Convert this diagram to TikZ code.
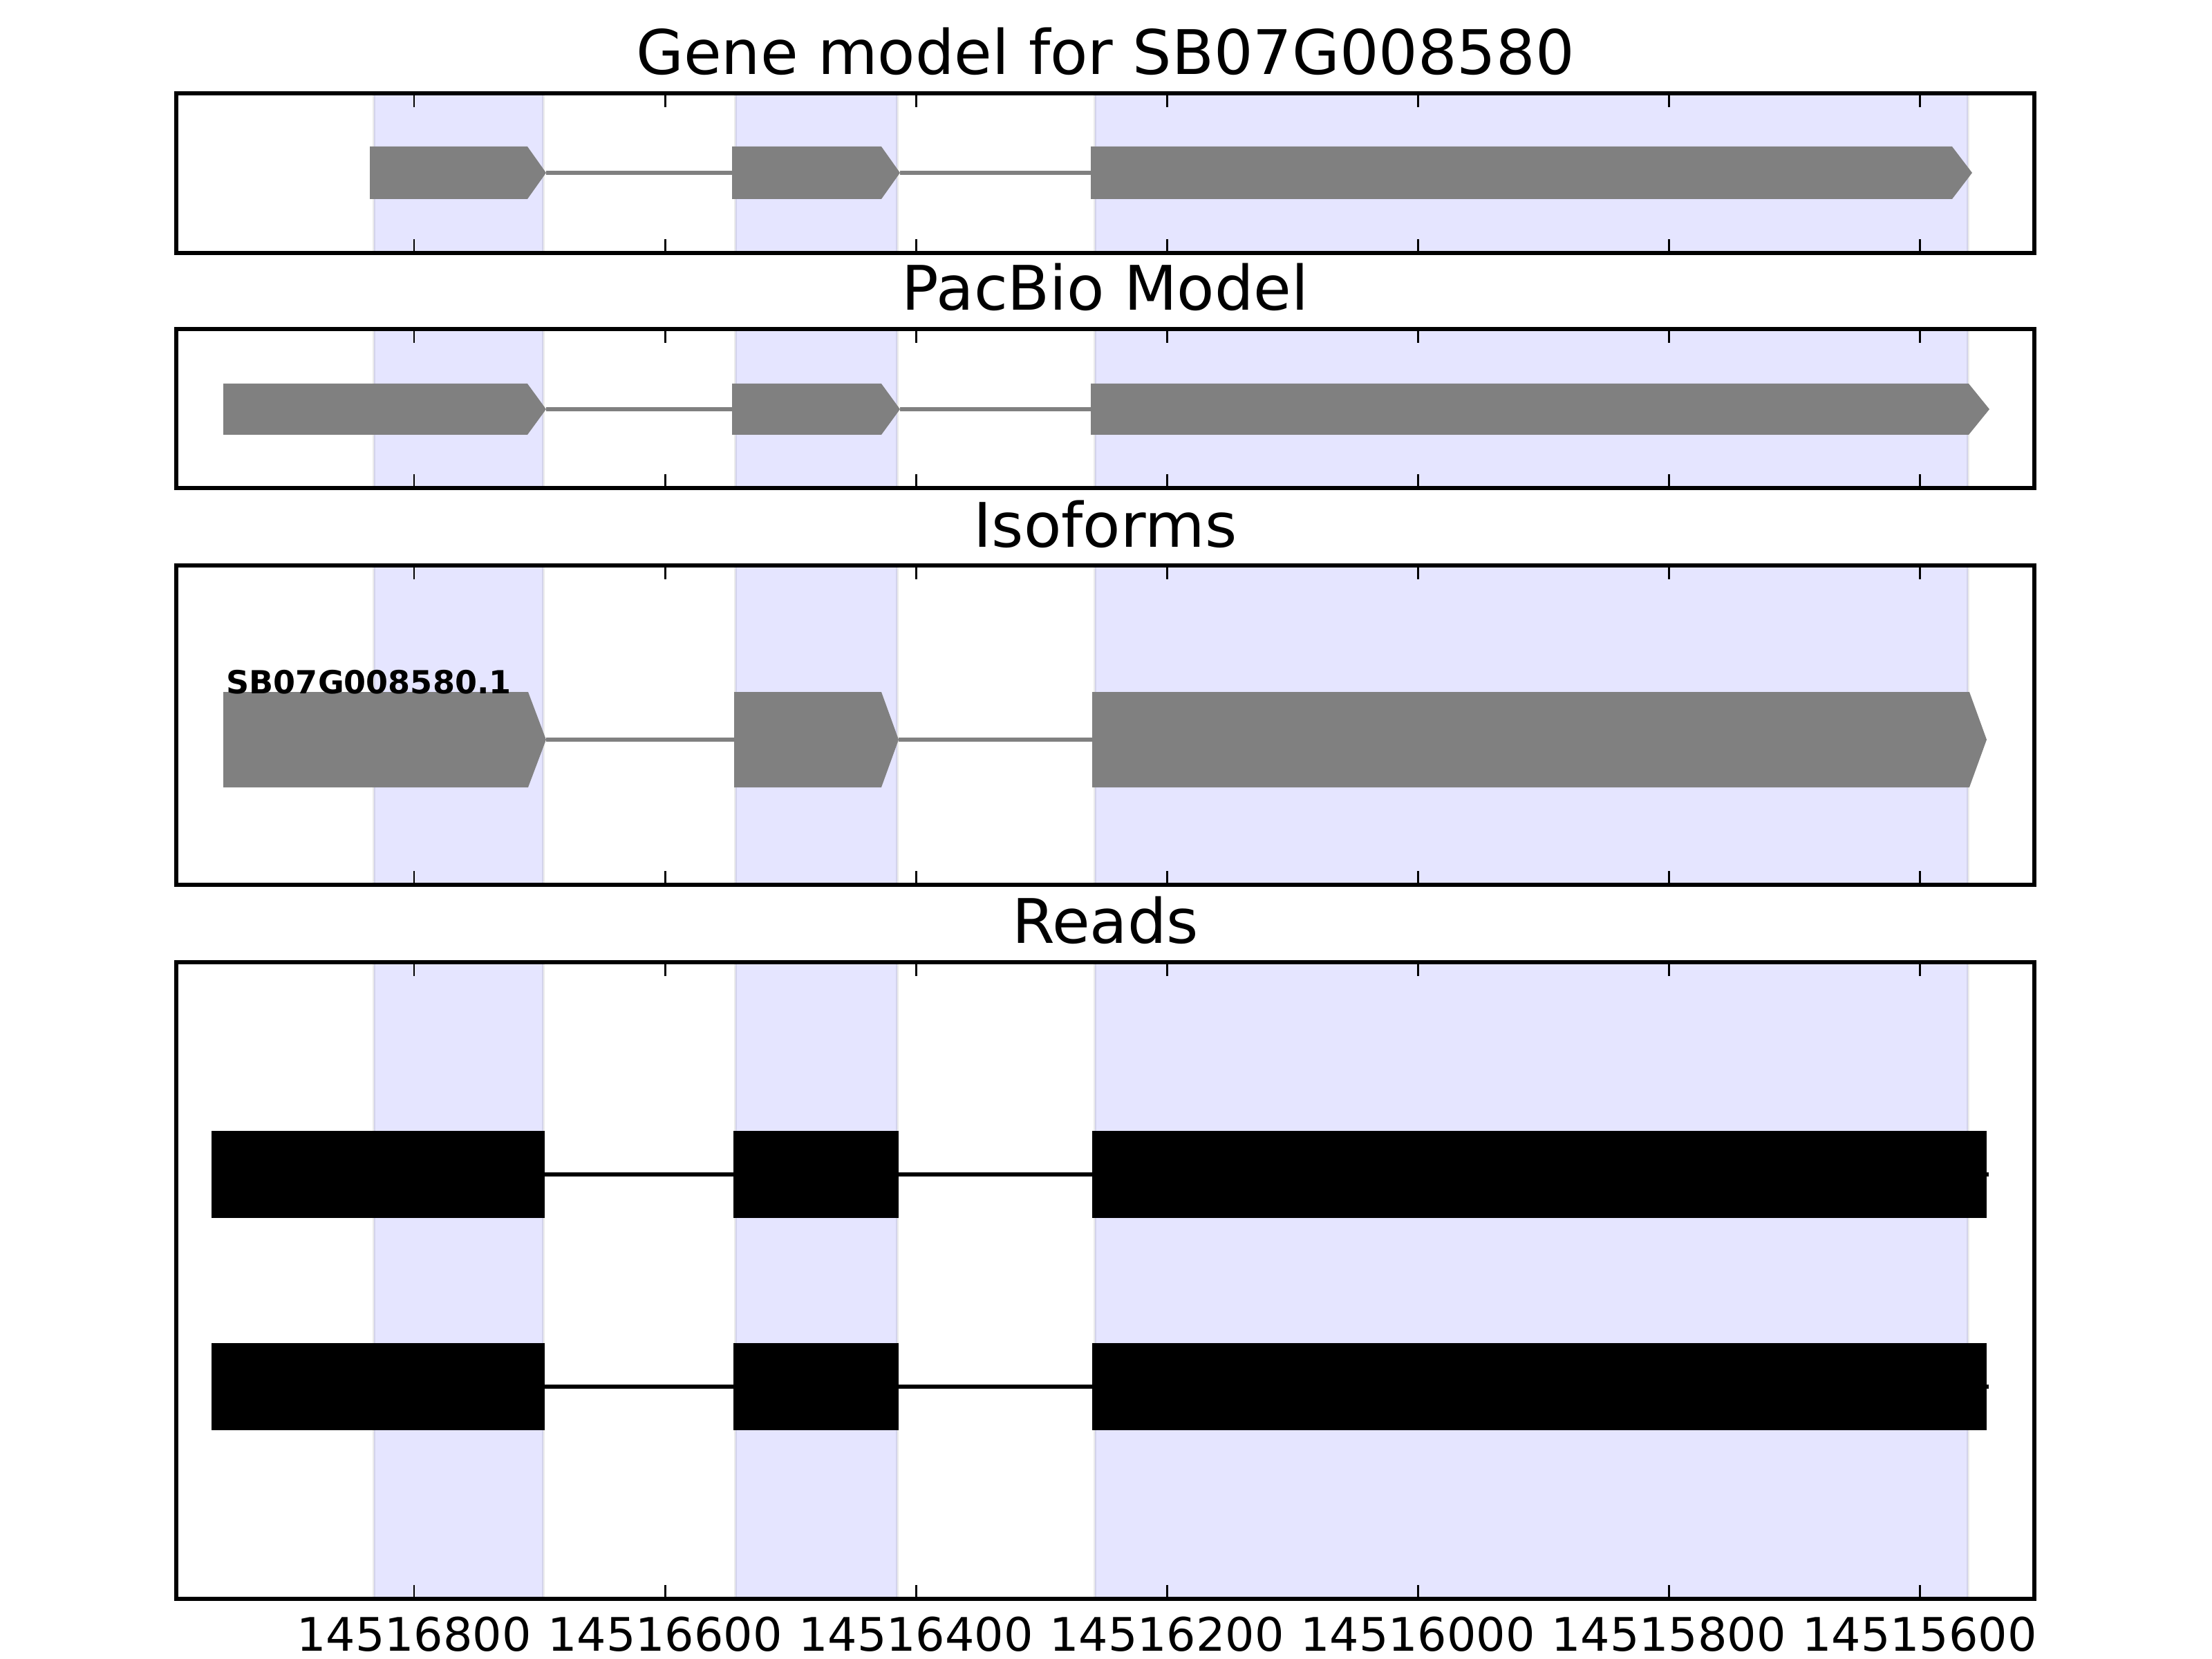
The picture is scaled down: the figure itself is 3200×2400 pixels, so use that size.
\documentclass[tikz,border=0pt]{standalone}
\usepackage{fontspec}
\setmainfont{DejaVu Sans}
\definecolor{exongray}{RGB}{128,128,128}
\tikzset{
  band/.style={fill=blue, fill opacity=0.1, draw=black, draw opacity=0.08, line width=1.0pt},
  frame/.style={draw=black, line width=1.5pt},
  tickmark/.style={draw=black, line width=0.85pt},
  exon/.style={fill=exongray},
  intron/.style={draw=exongray, line width=1.5pt},
  readintron/.style={draw=black, line width=1.5pt},
  ptitle/.style={anchor=base, inner sep=0pt, font=\fontsize{25.3}{30}\selectfont},
  ticklabel/.style={anchor=base, inner sep=0pt, font=\fontsize{19}{23}\selectfont},
  isolabel/.style={anchor=base west, inner sep=0pt, font=\fontsize{13.1}{15}\selectfont\bfseries},
}
\newcommand\gexon[5]{\fill[exon] (#1,{#4-#5}) -- (#2,{#4-#5}) -- (#3,#4) -- (#2,{#4+#5}) -- (#1,{#4+#5}) -- cycle;}
\begin{document}
\begin{tikzpicture}[x=0.1mm, y=-0.1mm]
\useasboundingbox (0,0) rectangle (3200,2400);
% shaded exon bands
\foreach \t/\b in {135/366, 476/706, 818/1280, 1392/2313} {
  \foreach \l/\r in {541/786, 1064/1298, 1584/2847} {
    \path[band] (\l,\t) rectangle (\r,\b);
  }
}
% panel 1: gene model
\draw[intron] (790,250) -- (1059,250);
\draw[intron] (1302,250) -- (1578,250);
\gexon{535}{763}{790}{250}{38}
\gexon{1059}{1275}{1302}{250}{38}
\gexon{1578}{2824}{2853}{250}{38}
% panel 2: PacBio model
\draw[intron] (790,592) -- (1059,592);
\draw[intron] (1302,592) -- (1578,592);
\gexon{323}{763}{790}{592}{37}
\gexon{1059}{1275}{1302}{592}{37}
\gexon{1578}{2848}{2878}{592}{37}
% panel 3: isoforms
\draw[intron] (790,1070) -- (1062,1070);
\draw[intron] (1300,1070) -- (1580,1070);
\gexon{323}{764}{790}{1070}{69}
\gexon{1062}{1275}{1300}{1070}{69}
\gexon{1580}{2849}{2874}{1070}{69}
\node[isolabel] (iso) at (327,1003) {SB07G008580.1};
% panel 4: reads
\foreach \c in {1699, 2006} {
  \draw[readintron] (306,\c) -- (2877,\c);
  \fill[black] (306,{\c-63}) rectangle (788,{\c+63});
  \fill[black] (1061,{\c-63}) rectangle (1300,{\c+63});
  \fill[black] (1580,{\c-63}) rectangle (2874,{\c+63});
}
% ticks and frames
\foreach \t/\b in {135/366, 476/706, 818/1280, 1392/2313} {
  \foreach \k in {0,...,6} {
    \draw[tickmark] ({599+363*\k},\t) -- ++(0,20);
    \draw[tickmark] ({599+363*\k},\b) -- ++(0,-20);
  }
  \draw[frame] (255,\t) rectangle (2943,\b);
}
% titles
\node[ptitle] (t1) at (1599,108) {Gene model for SB07G008580};
\node[ptitle] (t2) at (1599,449) {PacBio Model};
\node[ptitle] (t3) at (1599,791) {Isoforms};
\node[ptitle] (t4) at (1599,1364) {Reads};
% tick labels
\foreach \k/\lab in {0/14516800, 1/14516600, 2/14516400, 3/14516200, 4/14516000, 5/14515800, 6/14515600} {
  \node[ticklabel] (xl\k) at ({599+363*\k},2388) {\lab};
}
\end{tikzpicture}
\end{document}
